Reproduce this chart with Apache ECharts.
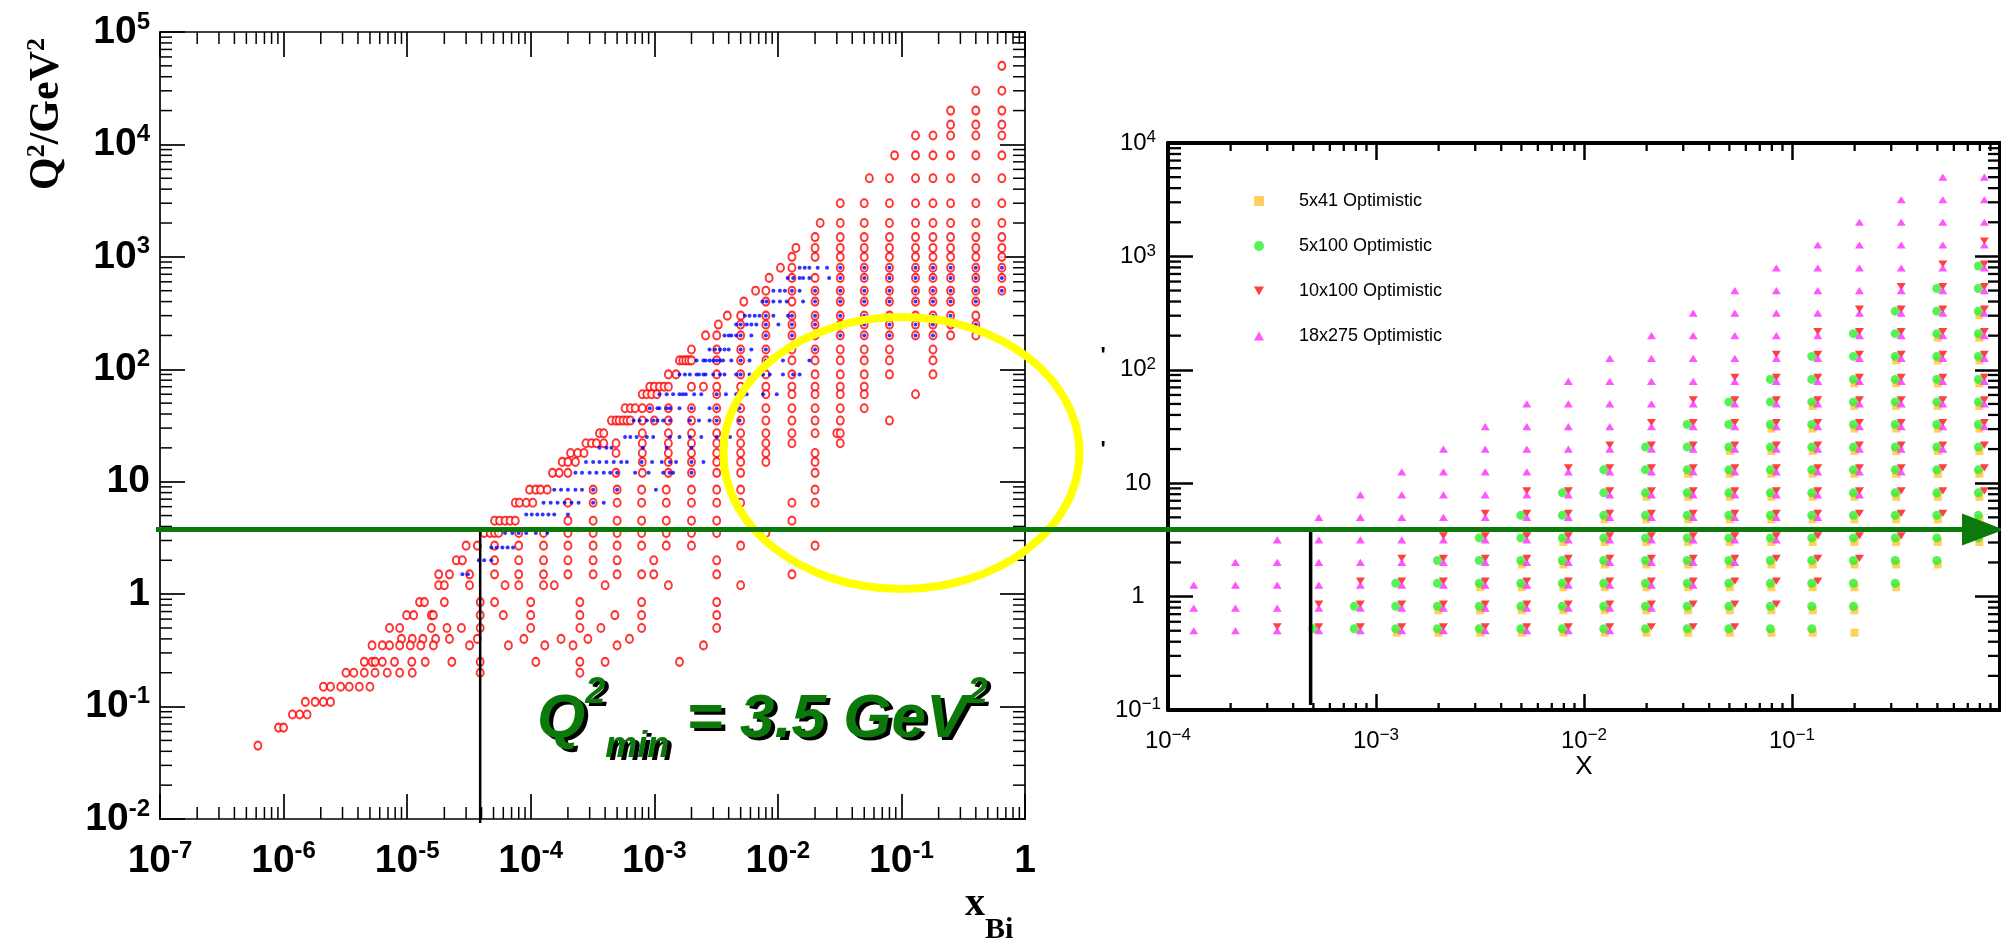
<!DOCTYPE html>
<html>
<head>
  <meta charset="utf-8" />
  <title>Q2 - x coverage</title>
  <script src="https://cdn.jsdelivr.net/npm/echarts@6/dist/echarts.min.js"></script>
  <style>
    html, body { margin: 0; padding: 0; background: #fff; }
    #main { width: 2001px; height: 943px; }
  </style>
</head>
<body>
  <div id="main"></div>
  <script>
    // ---- left panel: measured points, one row per Q2 value (GeV^2) with its x values ----
    const redQ2 = [50000, 30000, 20000, 15000, 12000, 8000, 5000, 3000, 2000, 1500, 1200, 1000, 800, 650, 500, 400,
      300, 250, 200, 150, 120, 90, 70, 60, 45, 35, 27, 22, 18, 15, 12, 8.5, 6.5, 4.5, 3.5, 2.7, 2.0, 1.5, 1.2,
      0.85, 0.65, 0.5, 0.4, 0.35, 0.25, 0.2, 0.15, 0.11, 0.085, 0.065, 0.045];
    const redX = [
      [0.65],
      [0.4, 0.65],
      [0.25, 0.4, 0.65],
      [0.25, 0.4, 0.65],
      [0.13, 0.18, 0.25, 0.4, 0.65],
      [0.088, 0.13, 0.18, 0.25, 0.4, 0.65],
      [0.055, 0.08, 0.13, 0.18, 0.25, 0.4, 0.65],
      [0.032, 0.05, 0.08, 0.13, 0.18, 0.25, 0.4, 0.65],
      [0.022, 0.032, 0.05, 0.08, 0.13, 0.18, 0.25, 0.4, 0.65],
      [0.02, 0.032, 0.05, 0.08, 0.13, 0.18, 0.25, 0.4, 0.65],
      [0.014, 0.02, 0.032, 0.05, 0.08, 0.13, 0.18, 0.25, 0.4, 0.65],
      [0.013, 0.02, 0.032, 0.05, 0.08, 0.13, 0.18, 0.25, 0.4, 0.65],
      [0.0105, 0.013, 0.032, 0.05, 0.08, 0.13, 0.18, 0.25, 0.4, 0.65],
      [0.0085, 0.013, 0.02, 0.032, 0.05, 0.08, 0.13, 0.18, 0.25, 0.4, 0.65],
      [0.0066, 0.008, 0.013, 0.02, 0.032, 0.05, 0.08, 0.13, 0.18, 0.25, 0.4, 0.65],
      [0.0053, 0.008, 0.013, 0.02, 0.032, 0.05, 0.08, 0.13, 0.18, 0.25, 0.4],
      [0.0039, 0.005, 0.008, 0.013, 0.02, 0.032, 0.05, 0.08, 0.13, 0.18, 0.25, 0.4],
      [0.0033, 0.005, 0.008, 0.013, 0.02, 0.032, 0.05, 0.08, 0.13, 0.18, 0.25, 0.4],
      [0.0026, 0.0032, 0.005, 0.008, 0.013, 0.02, 0.032, 0.05, 0.08, 0.13, 0.18, 0.25, 0.4],
      [0.002, 0.0032, 0.005, 0.008, 0.013, 0.02, 0.032, 0.05, 0.08, 0.18],
      [0.0016, 0.0017, 0.0018, 0.0019, 0.002, 0.0032, 0.005, 0.008, 0.013, 0.02, 0.032, 0.05, 0.08, 0.18],
      [0.0013, 0.0015, 0.0032, 0.005, 0.008, 0.013, 0.02, 0.032, 0.05, 0.08, 0.18],
      [0.00092, 0.001, 0.0011, 0.0012, 0.0013, 0.002, 0.0025, 0.0032, 0.005, 0.008, 0.013, 0.02, 0.032, 0.05],
      [0.0008, 0.00087, 0.00095, 0.00105, 0.0032, 0.005, 0.008, 0.013, 0.02, 0.032, 0.05, 0.13],
      [0.00058, 0.00064, 0.0007, 0.0008, 0.00092, 0.0013, 0.002, 0.0032, 0.005, 0.008, 0.013, 0.02, 0.032, 0.05],
      [0.00045, 0.00049, 0.00052, 0.00056, 0.0006, 0.00064, 0.0008, 0.001, 0.0013, 0.002, 0.0032, 0.005, 0.008, 0.013, 0.02, 0.032, 0.08],
      [0.00036, 0.00039, 0.0008, 0.0013, 0.002, 0.0032, 0.005, 0.008, 0.013, 0.02, 0.03, 0.032],
      [0.00028, 0.00031, 0.00034, 0.00039, 0.00049, 0.0008, 0.0013, 0.002, 0.0032, 0.005, 0.008, 0.013, 0.032],
      [0.00021, 0.00024, 0.00027, 0.00049, 0.0008, 0.0013, 0.002, 0.0032, 0.005, 0.008, 0.02],
      [0.00018, 0.0002, 0.00023, 0.0008, 0.0013, 0.002, 0.0032, 0.005, 0.008, 0.02],
      [0.00015, 0.00017, 0.0002, 0.00049, 0.0008, 0.0013, 0.002, 0.0032, 0.005, 0.02],
      [0.000098, 0.00011, 0.00012, 0.000136, 0.00032, 0.0005, 0.00079, 0.00125, 0.002, 0.0032, 0.005, 0.02],
      [0.000075, 0.000081, 0.000092, 0.000104, 0.0002, 0.00032, 0.0005, 0.00079, 0.00125, 0.002, 0.0032, 0.005, 0.013, 0.02],
      [0.000051, 0.000056, 0.000062, 0.000068, 0.000075, 0.0002, 0.00032, 0.0005, 0.00079, 0.00125, 0.002, 0.0032, 0.013],
      [0.000042, 0.000047, 0.000051, 0.000055, 0.00008, 0.000127, 0.0002, 0.00032, 0.0005, 0.00079, 0.00125, 0.002, 0.0032, 0.008],
      [0.00003, 0.000037, 0.000051, 0.00008, 0.000127, 0.0002, 0.00032, 0.0005, 0.00079, 0.00125, 0.002, 0.005, 0.02],
      [0.000025, 0.000028, 0.000051, 0.00008, 0.000127, 0.0002, 0.00032, 0.0005, 0.00099, 0.0032],
      [0.000018, 0.000022, 0.000032, 0.000051, 0.00008, 0.000127, 0.0002, 0.00032, 0.0005, 0.00079, 0.00099, 0.0032, 0.013],
      [0.000018, 0.00002, 0.000032, 0.000062, 0.00008, 0.000127, 0.000155, 0.0004, 0.0013, 0.005],
      [0.0000126, 0.0000138, 0.00002, 0.000039, 0.000051, 0.0001, 0.00025, 0.00079, 0.0032],
      [0.0000099, 0.0000113, 0.0000157, 0.0000163, 0.000039, 0.00006, 0.0001, 0.00025, 0.00048, 0.00079, 0.0032],
      [0.0000072, 0.0000087, 0.0000157, 0.000021, 0.0000275, 0.000039, 0.0001, 0.00025, 0.00037, 0.00079, 0.0032],
      [0.000009, 0.000011, 0.0000134, 0.000017, 0.000022, 0.000037, 0.000088, 0.000176, 0.00029, 0.00063],
      [0.0000052, 0.0000063, 0.0000072, 0.0000087, 0.0000106, 0.0000129, 0.0000163, 0.000032, 0.000066, 0.00013, 0.00022, 0.0005, 0.0025],
      [0.0000045, 0.0000052, 0.0000055, 0.0000063, 0.0000079, 0.0000109, 0.000014, 0.000023, 0.000039, 0.00011, 0.00025, 0.0004, 0.0016],
      [0.0000032, 0.0000037, 0.0000045, 0.0000055, 0.0000069, 0.0000087, 0.000011, 0.000039, 0.00025],
      [0.0000021, 0.0000024, 0.0000029, 0.0000034, 0.0000041, 0.000005],
      [0.0000015, 0.0000018, 0.0000021, 0.0000024],
      [0.00000118, 0.00000135, 0.00000155],
      [0.00000091, 0.000001],
      [0.00000062]
    ];

    const blueQ2 = [800, 650, 500, 400, 300, 250, 200, 150, 120, 90, 60, 45, 35, 25, 20, 15, 12, 8.5, 6.5, 5.1, 3.5, 2.6, 2.0, 1.5];
    const blueX = [
      [0.015, 0.0165, 0.018, 0.021, 0.025, 0.032, 0.05, 0.08, 0.13, 0.18, 0.25, 0.4, 0.65],
      [0.012, 0.0133, 0.015, 0.016, 0.018, 0.026, 0.032, 0.05, 0.08, 0.13, 0.18, 0.25, 0.4, 0.65],
      [0.0092, 0.0104, 0.0114, 0.013, 0.015, 0.02, 0.032, 0.05, 0.08, 0.13, 0.18, 0.25, 0.4, 0.65],
      [0.0075, 0.0081, 0.0092, 0.0104, 0.0118, 0.016, 0.02, 0.032, 0.05, 0.08, 0.13, 0.18, 0.25, 0.4],
      [0.0054, 0.0059, 0.0065, 0.0071, 0.008, 0.0092, 0.0121, 0.013, 0.02, 0.032, 0.05, 0.08, 0.13, 0.18, 0.25],
      [0.0046, 0.005, 0.0056, 0.0061, 0.0067, 0.008, 0.0101, 0.013, 0.02, 0.032, 0.05, 0.08, 0.13, 0.18, 0.25, 0.4],
      [0.0037, 0.004, 0.0042, 0.0046, 0.005, 0.0061, 0.008, 0.013, 0.02, 0.032, 0.05, 0.08, 0.13, 0.18],
      [0.0028, 0.0031, 0.0034, 0.0037, 0.004, 0.005, 0.0061, 0.008, 0.02],
      [0.0022, 0.0025, 0.0026, 0.0028, 0.003, 0.0032, 0.0034, 0.0036, 0.0042, 0.005, 0.0059, 0.008, 0.0086, 0.011, 0.018],
      [0.0016, 0.00177, 0.00194, 0.0022, 0.0023, 0.0025, 0.0026, 0.003, 0.0034, 0.0037, 0.0046, 0.005, 0.0059, 0.0067, 0.0076, 0.0086, 0.011, 0.0133, 0.015],
      [0.0011, 0.00126, 0.00142, 0.0016, 0.0017, 0.0018, 0.0021, 0.0024, 0.0032, 0.0038, 0.0046, 0.0056, 0.0076, 0.0098],
      [0.00092, 0.00106, 0.0011, 0.00126, 0.00134, 0.0016, 0.002, 0.0028, 0.0032, 0.0049],
      [0.00068, 0.00076, 0.00087, 0.00098, 0.00106, 0.00118, 0.00134, 0.00194, 0.0023, 0.0028, 0.0032, 0.0041, 0.0049],
      [0.00058, 0.00064, 0.00072, 0.00087, 0.00098, 0.00134, 0.0016, 0.00194, 0.0024, 0.0032, 0.0041],
      [0.00036, 0.00041, 0.00045, 0.00081, 0.00126, 0.002],
      [0.00028, 0.00032, 0.00036, 0.00041, 0.00047, 0.00054, 0.0006, 0.00079, 0.00096, 0.00115, 0.00134, 0.0015, 0.002, 0.0025],
      [0.00023, 0.00026, 0.0003, 0.00034, 0.00039, 0.00044, 0.0005, 0.0007, 0.0009, 0.00118, 0.00133, 0.00142, 0.002],
      [0.000155, 0.000176, 0.0002, 0.00023, 0.00026, 0.00032, 0.0005, 0.00103],
      [0.000127, 0.000145, 0.000165, 0.000188, 0.000214, 0.000244, 0.00032, 0.00039],
      [0.000092, 0.000102, 0.000113, 0.000125, 0.000139, 0.000155, 0.0002],
      [0.000062, 0.000071, 0.00008, 0.000092, 0.00011, 0.000136],
      [0.000048, 0.000053, 0.000059, 0.000065, 0.000072],
      [0.000038, 0.000042, 0.000048],
      [0.000028, 0.000031]
    ];

    // ---- right panel: bin centres and, per x column, the [first, last] Q2 bin that is filled ----
    const binX = [1.33e-4, 2.11e-4, 3.35e-4, 5.31e-4, 8.41e-4, 1.33e-3, 2.11e-3, 3.35e-3, 5.31e-3, 8.41e-3,
      0.0133, 0.0211, 0.0335, 0.0531, 0.0841, 0.133, 0.211, 0.335, 0.531, 0.841];
    const binQ2 = [0.5, 0.79, 1.26, 2.0, 3.16, 5.0, 7.9, 12.6, 20, 31.6, 50, 79, 126, 200, 316, 500, 790, 1260, 2000, 3160, 5000];
    const rows5x41 = [null, null, null, null, null, [0, 0], [0, 1], [0, 2], [0, 3], [0, 4], [0, 5], [0, 6], [0, 7],
      [0, 8], [0, 9], [0, 10], [0, 11], [2, 12], [3, 13], [4, 14]];
    const rows5x100 = [null, null, null, [0, 0], [0, 1], [0, 2], [0, 3], [0, 4], [0, 5], [0, 6], [0, 7], [0, 8], [0, 9],
      [0, 10], [0, 11], [0, 12], [1, 13], [2, 14], [3, 15], [4, 16]];
    const rows10x100 = [null, null, [0, 0], [0, 1], [0, 2], [0, 3], [0, 4], [0, 5], [0, 6], [0, 7], [0, 8], [0, 9], [0, 10],
      [0, 11], [1, 12], [2, 13], [3, 14], [4, 15], [5, 16], [6, 17]];
    const rows18x275 = [[0, 2], [0, 3], [0, 4], [0, 5], [0, 6], [0, 7], [0, 8], [0, 9], [0, 10], [0, 11], [0, 12], [1, 13],
      [2, 14], [3, 15], [4, 16], [5, 17], [6, 18], [7, 19], [8, 20], [9, 20]];
    const beamNames = ['5x41 Optimistic', '5x100 Optimistic', '10x100 Optimistic', '18x275 Optimistic'];

    // ---- annotations ----
    const qCut = 3.75;            // green Q2 line
    const xCutLeft = 3.9e-5;      // black vertical line, left panel
    const xCutRight = 4.85e-4;    // black vertical line, right panel
    const ellipseAt = [0.1, 18];  // yellow ellipse centre

    function rowsToPoints(q2s, xs) {
      const out = [];
      q2s.forEach(function (q, i) { xs[i].forEach(function (x) { out.push([x, q]); }); });
      return out;
    }
    function binsToPoints(ranges) {
      const out = [];
      ranges.forEach(function (r, c) {
        if (!r) return;
        for (let k = r[0]; k <= r[1]; k++) out.push([binX[c], binQ2[k]]);
      });
      return out;
    }

    // minor log ticks (2..9 per decade) on all four sides of a frame
    function minorTicks(x0, x1, y0, y1) {
      const d = [];
      for (let e = Math.round(Math.log10(x0)); e < Math.round(Math.log10(x1)); e++) {
        for (let m = 2; m <= 9; m++) { const v = m * Math.pow(10, e); d.push([v, y0, 0], [v, y1, 1]); }
      }
      for (let e = Math.round(Math.log10(y0)); e < Math.round(Math.log10(y1)); e++) {
        for (let m = 2; m <= 9; m++) { const v = m * Math.pow(10, e); d.push([x0, v, 2], [x1, v, 3]); }
      }
      return d;
    }
    function tickRenderer(lens, width) {
      return function (params, api) {
        const p = api.coord([api.value(0), api.value(1)]);
        const k = api.value(2);
        let x2 = p[0], y2 = p[1];
        if (k === 0) y2 -= lens[0];
        else if (k === 1) y2 += lens[1];
        else if (k === 2) x2 += lens[2];
        else x2 -= lens[3];
        return { type: 'line', shape: { x1: p[0], y1: p[1], x2: x2, y2: y2 }, style: { stroke: '#000', lineWidth: width } };
      };
    }

    const boldFont = { fontFamily: 'Liberation Sans', fontWeight: 'bold', color: '#000' };
    const leftRich = {
      b: Object.assign({ fontSize: 39, lineHeight: 44 }, boldFont),
      s: Object.assign({ fontSize: 24, lineHeight: 26, verticalAlign: 'top' }, boldFont)
    };
    const thinFont = { fontFamily: 'Liberation Sans', color: '#000' };
    const rightRich = {
      b: Object.assign({ fontSize: 24, lineHeight: 28 }, thinFont),
      s: Object.assign({ fontSize: 17, lineHeight: 12, verticalAlign: 'top' }, thinFont)
    };
    function leftLabel(v) {
      const e = Math.round(Math.log10(v));
      if (e === 0) return '{b|1}';
      if (e === 1) return '{b|10}';
      return '{b|10}{s|' + e + '}';
    }
    function rightLabel(v) {
      const e = Math.round(Math.log10(v));
      if (e === 0) return '{b|1}';
      if (e === 1) return '{b|10}';
      return '{b|10}{s|' + String(e).replace('-', '\u2212') + '}';
    }

    function logAxis(grid, min, max, pos, opts) {
      return {
        type: 'log', logBase: 10, gridIndex: grid, min: min, max: max, position: pos, splitNumber: 7,
        splitLine: { show: false },
        axisLine: { show: true, onZero: false, lineStyle: { color: '#000', width: opts.lw } },
        axisTick: { show: true, inside: true, length: opts.tick, lineStyle: { color: '#000', width: opts.tw } },
        axisLabel: opts.label ? Object.assign({ show: true, interval: 0 }, opts.label) : { show: false }
      };
    }

    const chart = echarts.init(document.getElementById('main'));

    const option = {
      animation: false,
      backgroundColor: '#fff',
      grid: [
        { left: 160, top: 32, width: 865, height: 787, outerBoundsMode: 'none' },
        { left: 1168, top: 143, width: 832, height: 567, outerBoundsMode: 'none' }
      ],
      xAxis: [
        logAxis(0, 1e-7, 1, 'bottom', { lw: 1.7, tw: 1.7, tick: 25,
          label: { formatter: leftLabel, rich: leftRich, margin: 20 } }),
        logAxis(0, 1e-7, 1, 'top', { lw: 1.7, tw: 1.7, tick: 25 }),
        logAxis(1, 1e-4, 1, 'bottom', { lw: 4, tw: 2.5, tick: 16,
          label: { formatter: rightLabel, rich: rightRich, margin: 17, showMaxLabel: false } }),
        logAxis(1, 1e-4, 1, 'top', { lw: 4, tw: 2.5, tick: 17 })
      ],
      yAxis: [
        logAxis(0, 0.01, 1e5, 'left', { lw: 1.7, tw: 1.7, tick: 25,
          label: { formatter: leftLabel, rich: leftRich, margin: 10 } }),
        logAxis(0, 0.01, 1e5, 'right', { lw: 1.7, tw: 1.7, tick: 25 }),
        logAxis(1, 0.1, 1e4, 'left', { lw: 4, tw: 2.5, tick: 25,
          label: { formatter: rightLabel, rich: rightRich, margin: 30, align: 'center' } }),
        logAxis(1, 0.1, 1e4, 'right', { lw: 4, tw: 2.5, tick: 25 })
      ],
      legend: {
        data: beamNames,
        orient: 'vertical',
        left: 1254,
        top: 191,
        padding: 0,
        itemWidth: 10,
        itemHeight: 10,
        itemGap: 25,
        textStyle: { fontFamily: 'Liberation Sans', fontSize: 18, color: '#000', lineHeight: 20, padding: [0, 0, 0, 30] }
      },
      series: [
        {
          type: 'custom', name: 'ticksL', xAxisIndex: 0, yAxisIndex: 0, silent: true, clip: false, z: 5,
          encode: { x: 0, y: 1 }, data: minorTicks(1e-7, 1, 0.01, 1e5), renderItem: tickRenderer([12, 12, 12, 12], 1.5)
        },
        {
          type: 'custom', name: 'ticksR', xAxisIndex: 2, yAxisIndex: 2, silent: true, clip: false, z: 5,
          encode: { x: 0, y: 1 }, data: minorTicks(1e-4, 1, 0.1, 1e4), renderItem: tickRenderer([7, 8, 13, 12], 2.3)
        },
        {
          type: 'scatter', name: 'all', xAxisIndex: 0, yAxisIndex: 0, data: rowsToPoints(redQ2, redX),
          symbol: 'emptyCircle', symbolSize: [7, 8],
          itemStyle: { color: '#ff0000', borderColor: '#ff0000', borderWidth: 1.6 }
        },
        {
          type: 'scatter', name: 'hera', xAxisIndex: 0, yAxisIndex: 0, data: rowsToPoints(blueQ2, blueX),
          symbol: 'circle', symbolSize: 4, itemStyle: { color: '#0000ff' }
        },
        {
          type: 'scatter', name: beamNames[0], xAxisIndex: 2, yAxisIndex: 2, data: binsToPoints(rows5x41),
          symbol: 'rect', symbolSize: 8, symbolOffset: [-5, 2], itemStyle: { color: '#fdc532' }
        },
        {
          type: 'scatter', name: beamNames[1], xAxisIndex: 2, yAxisIndex: 2, data: binsToPoints(rows5x100),
          symbol: 'circle', symbolSize: 9, symbolOffset: [-6, -2], itemStyle: { color: '#30ee30' }
        },
        {
          type: 'scatter', name: beamNames[2], xAxisIndex: 2, yAxisIndex: 2, data: binsToPoints(rows10x100),
          symbol: 'path://M0,0L10,0L5,9Z', symbolKeepAspect: true, symbolSize: [9, 8], symbolOffset: [0, -4],
          itemStyle: { color: '#ff1010' }
        },
        {
          type: 'scatter', name: beamNames[3], xAxisIndex: 2, yAxisIndex: 2, data: binsToPoints(rows18x275),
          symbol: 'path://M5,0L10,9L0,9Z', symbolKeepAspect: true, symbolSize: [9, 8],
          itemStyle: { color: '#ff2bff' }
        }
      ]
    };
    chart.setOption(option);

    // annotations placed through the axes of the panels
    const toL = function (p) { return chart.convertToPixel({ xAxisIndex: 0, yAxisIndex: 0 }, p); };
    const toR = function (p) { return chart.convertToPixel({ xAxisIndex: 2, yAxisIndex: 2 }, p); };
    const lineY = toL([1e-7, qCut])[1];
    const lineX0 = toL([1e-7, qCut])[0] - 4;
    const vL0 = toL([xCutLeft, 0.01]);
    const vR0 = toR([xCutRight, 0.1]);
    const ell = toL(ellipseAt);
    const green = '#0b7a0b';
    const qFont = { fontFamily: 'Liberation Sans', fontWeight: 'bold', fontStyle: 'italic' };
    function qRich(fill) {
      return {
        q: Object.assign({ fontSize: 62, lineHeight: 90, fill: fill }, qFont),
        sp: Object.assign({ fontSize: 36, lineHeight: 70, verticalAlign: 'top', fill: fill }, qFont),
        sb: Object.assign({ fontSize: 36, lineHeight: 14, verticalAlign: 'bottom', fill: fill }, qFont)
      };
    }
    const qText = '{q|Q}{sp|2}{sb|min}{q| = 3.5 GeV}{sp|2}';
    const serifB = { fontFamily: 'Liberation Serif', fontWeight: 'bold', fill: '#000' };

    chart.setOption({
      graphic: [
        { type: 'ellipse', z: 50, shape: { cx: ell[0], cy: ell[1], rx: 178, ry: 136 },
          style: { fill: 'none', stroke: '#ffff00', lineWidth: 8 } },
        { type: 'line', z: 60, shape: { x1: vL0[0], y1: vL0[1] + 4, x2: vL0[0], y2: lineY },
          style: { stroke: '#000', lineWidth: 2.5 } },
        { type: 'line', z: 60, shape: { x1: vR0[0], y1: vR0[1] - 5, x2: vR0[0], y2: lineY },
          style: { stroke: '#000', lineWidth: 3.5 } },
        { type: 'line', z: 70, shape: { x1: lineX0, y1: lineY, x2: 1966, y2: lineY },
          style: { stroke: green, lineWidth: 5 } },
        { type: 'polygon', z: 70, shape: { points: [[1962, lineY - 16], [2004, lineY], [1962, lineY + 16]] },
          style: { fill: green } },
        { type: 'text', z: 80, x: 541, y: 678,
          style: { text: qText, rich: qRich('#000'), fill: '#000', align: 'left', verticalAlign: 'top',
            textAlign: 'left', textVerticalAlign: 'top' } },
        { type: 'text', z: 81, x: 537, y: 675,
          style: { text: qText, rich: qRich(green), fill: green, align: 'left', verticalAlign: 'top',
            textAlign: 'left', textVerticalAlign: 'top' } },
        { type: 'text', z: 80, x: 47, y: 114, rotation: Math.PI / 2,
          style: { text: '{a|Q}{s|2}{a|/GeV}{s|2}', align: 'center', verticalAlign: 'middle',
            textAlign: 'center', textVerticalAlign: 'middle',
            rich: { a: Object.assign({ fontSize: 42, lineHeight: 46 }, serifB),
              s: Object.assign({ fontSize: 26, lineHeight: 30, verticalAlign: 'top' }, serifB) } } },
        { type: 'text', z: 80, x: 965, y: 885,
          style: { text: '{x|x}{b|Bi}', align: 'left', verticalAlign: 'top', textAlign: 'left', textVerticalAlign: 'top',
            rich: { x: Object.assign({ fontSize: 40, lineHeight: 60, verticalAlign: 'top' }, serifB),
              b: Object.assign({ fontSize: 30, lineHeight: 30, verticalAlign: 'bottom' }, serifB) } } },
        { type: 'text', z: 80, x: 1584, y: 767,
          style: { text: 'X', fontFamily: 'Liberation Sans', fontSize: 26, fill: '#000', align: 'center',
            verticalAlign: 'middle', textAlign: 'center', textVerticalAlign: 'middle' } },
        { type: 'text', z: 80, x: 1103, y: 356,
          style: { text: "'", fontFamily: 'Liberation Sans', fontSize: 22, fontWeight: 'bold', fill: '#000',
            align: 'center', verticalAlign: 'middle', textAlign: 'center', textVerticalAlign: 'middle' } },
        { type: 'text', z: 80, x: 1103, y: 450,
          style: { text: "'", fontFamily: 'Liberation Sans', fontSize: 22, fontWeight: 'bold', fill: '#000',
            align: 'center', verticalAlign: 'middle', textAlign: 'center', textVerticalAlign: 'middle' } }
      ]
    });
  </script>
</body>
</html>
